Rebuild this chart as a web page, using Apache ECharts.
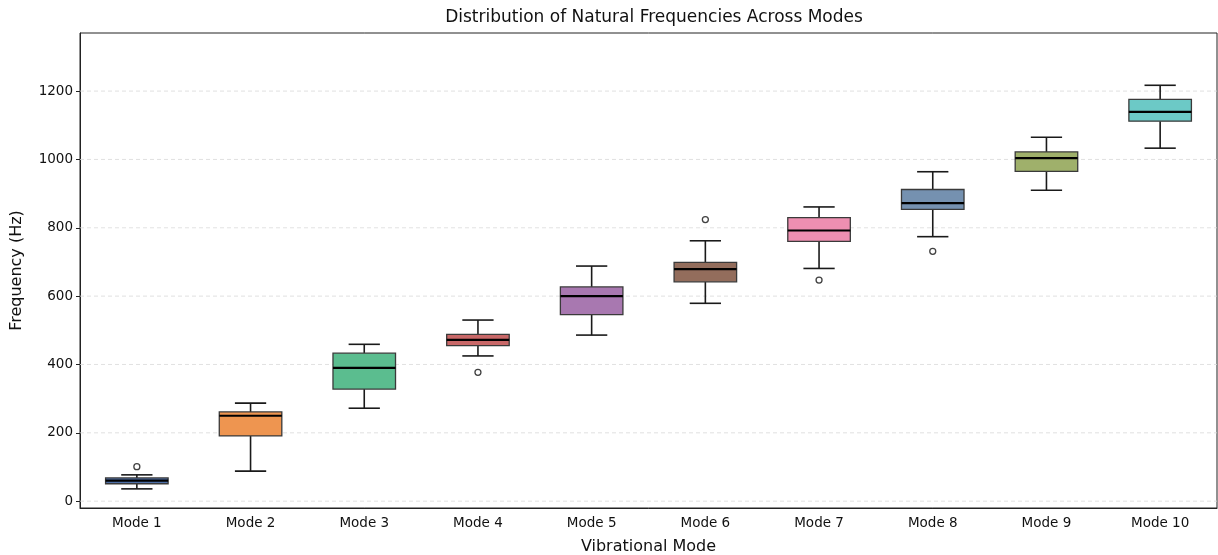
<!DOCTYPE html>
<html>
<head>
<meta charset="utf-8">
<script src="https://cdn.jsdelivr.net/npm/echarts@6/dist/echarts.min.js"></script>
<style>
  html, body { margin: 0; padding: 0; background: #fff; }
  #chart { width: 1218px; height: 555px; }
</style>
</head>
<body>
<div id="chart"></div>
<script>
const modes = ['Mode 1', 'Mode 2', 'Mode 3', 'Mode 4', 'Mode 5', 'Mode 6', 'Mode 7', 'Mode 8', 'Mode 9', 'Mode 10'];
const whiskerLow = [36, 88, 272, 425, 486, 579, 681, 774, 910, 1033];
const q1 = [51, 191, 328, 455, 546, 642, 760, 854, 965, 1112];
const median = [60, 250, 390, 472, 600, 679, 792, 872, 1004, 1139];
const q3 = [68, 261, 433, 488, 627, 699, 830, 912, 1022, 1176];
const whiskerHigh = [77, 287, 459, 530, 688, 762, 861, 964, 1065, 1217];
// [mode index, value]
const outliers = [[0, 101], [3, 377], [5, 824], [6, 647], [7, 731]];
const yTicks = [0, 200, 400, 600, 800, 1000, 1200];

const boxColors = ['#4e6fa6', '#ee9550', '#5bbd8f', '#c96868', '#a878b0',
                   '#936d5c', '#ee8fb1', '#7591b0', '#9fb06b', '#6cc9c6'];

const font = 'DejaVu Sans';

const boxData = modes.map((m, i) => [i, whiskerLow[i], q1[i], median[i], q3[i], whiskerHigh[i]]);

function renderBox(params, api) {
  const x = api.value(0);
  const pLow = api.coord([x, api.value(1)]);
  const pQ1 = api.coord([x, api.value(2)]);
  const pMed = api.coord([x, api.value(3)]);
  const pQ3 = api.coord([x, api.value(4)]);
  const pHigh = api.coord([x, api.value(5)]);
  const bw = api.size([1, 0])[0] * 0.55;
  const cw = bw / 2;
  const cx = pQ1[0];
  const lineStyle = { stroke: '#1a1a1a', lineWidth: 1.6 };
  return {
    type: 'group',
    children: [
      { type: 'line', shape: { x1: cx, y1: pQ1[1], x2: cx, y2: pLow[1] }, style: lineStyle },
      { type: 'line', shape: { x1: cx, y1: pQ3[1], x2: cx, y2: pHigh[1] }, style: lineStyle },
      { type: 'line', shape: { x1: cx - cw / 2, y1: pLow[1], x2: cx + cw / 2, y2: pLow[1] }, style: lineStyle },
      { type: 'line', shape: { x1: cx - cw / 2, y1: pHigh[1], x2: cx + cw / 2, y2: pHigh[1] }, style: lineStyle },
      {
        type: 'rect',
        shape: { x: cx - bw / 2, y: pQ3[1], width: bw, height: pQ1[1] - pQ3[1] },
        style: { fill: boxColors[params.dataIndex], stroke: '#3a3a3a', lineWidth: 1.3 }
      },
      { type: 'line', shape: { x1: cx - bw / 2, y1: pMed[1], x2: cx + bw / 2, y2: pMed[1] }, style: { stroke: '#000', lineWidth: 2.2 } }
    ]
  };
}

const chart = echarts.init(document.getElementById('chart'), null, { renderer: 'canvas' });

chart.setOption({
  animation: false,
  title: {
    text: 'Distribution of Natural Frequencies Across Modes',
    left: 649, top: 4, textAlign: 'center',
    textStyle: { fontFamily: font, fontSize: 17, fontWeight: 'normal', color: '#111' }
  },
  grid: {
    left: 80, right: 1, top: 33, bottom: 47,
    outerBoundsMode: 'none', containLabel: false,
    show: true, borderColor: '#222', borderWidth: 1, backgroundColor: '#fff'
  },
  xAxis: {
    type: 'category',
    data: modes,
    name: 'Vibrational Mode',
    nameLocation: 'middle',
    nameGap: 31,
    nameTextStyle: { fontFamily: font, fontSize: 16, color: '#111' },
    axisLine: { onZero: false, lineStyle: { color: '#222' } },
    axisTick: { alignWithLabel: true, length: 4, lineStyle: { color: '#222' } },
    axisLabel: { fontFamily: font, fontSize: 13.5, color: '#111', margin: 8 },
    splitLine: { show: false }
  },
  yAxis: {
    type: 'value',
    min: -20, max: 1370,
    name: 'Frequency (Hz)',
    nameLocation: 'middle',
    nameGap: 55,
    nameTextStyle: { fontFamily: font, fontSize: 16, color: '#111' },
    axisLine: { show: true, lineStyle: { color: '#222' } },
    axisTick: { show: true, length: 4, customValues: yTicks, lineStyle: { color: '#222' } },
    axisLabel: { fontFamily: font, fontSize: 13.5, color: '#111', margin: 7, customValues: yTicks, formatter: v => String(v) },
    splitLine: { show: false }
  },
  series: [
    {
      type: 'custom',
      name: 'grid',
      data: yTicks.map(v => [0, v]),
      renderItem: (params, api) => {
        const p = api.coord([0, api.value(1)]);
        const cs = params.coordSys;
        return {
          type: 'line', silent: true,
          shape: { x1: cs.x, y1: p[1], x2: cs.x + cs.width, y2: p[1] },
          style: { stroke: '#d9d9d9', lineWidth: 0.8, lineDash: [4, 3] }
        };
      },
      z: 1
    },
    {
      type: 'custom',
      name: 'boxes',
      data: boxData,
      renderItem: renderBox,
      encode: { x: 0, y: [1, 2, 3, 4, 5] },
      z: 3
    },
    {
      type: 'scatter',
      name: 'outliers',
      data: outliers,
      symbol: 'circle',
      symbolSize: 6,
      itemStyle: { color: '#fff', borderColor: '#111', borderWidth: 1.3 },
      z: 4
    }
  ]
});
</script>
</body>
</html>
